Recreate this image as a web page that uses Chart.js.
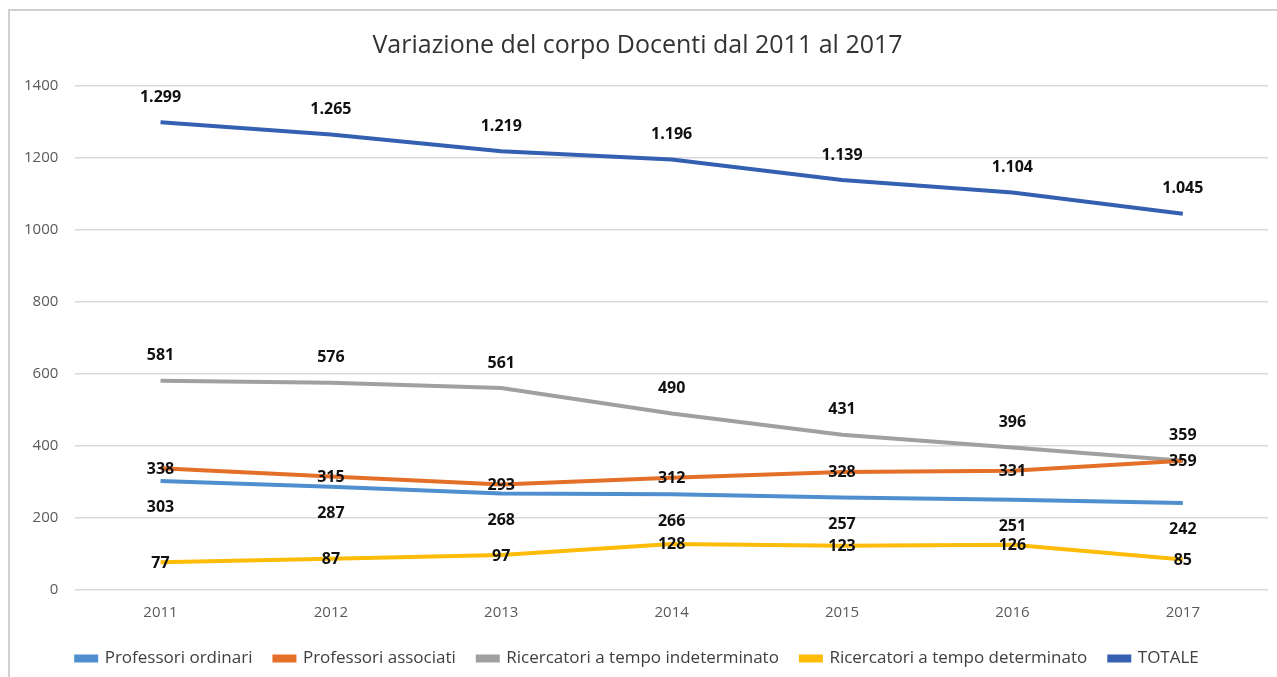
<!DOCTYPE html>
<html>
<head>
<meta charset="utf-8">
<script src="https://cdn.jsdelivr.net/npm/chart.js@4.4.1/dist/chart.umd.min.js"></script>
<style>
  body { margin: 0; background: #fff; }
  #wrap { position: relative; width: 1277px; height: 677px; }
  #frame { position: absolute; left: 8px; top: 9px; width: 1300px; height: 700px;
           border-top: 2px solid #d0d0d0; border-left: 2px solid #d0d0d0; }
  canvas { position: absolute; left: 0; top: 0; }
</style>
</head>
<body>
<div id="wrap">
  <div id="frame"></div>
  <canvas id="docentiChart" width="1277" height="677"></canvas>
</div>
<script>
const anni = ['2011', '2012', '2013', '2014', '2015', '2016', '2017'];
const ordinari = [303, 287, 268, 266, 257, 251, 242];
const associati = [338, 315, 293, 312, 328, 331, 359];
const ricIndeterminato = [581, 576, 561, 490, 431, 396, 359];
const ricDeterminato = [77, 87, 97, 128, 123, 126, 85];
const totale = [1299, 1265, 1219, 1196, 1139, 1104, 1045];
const yTicks = [0, 200, 400, 600, 800, 1000, 1200, 1400];

// migliaia con il punto, come nel grafico originale
function fmt(v) {
    return String(v).replace(/\B(?=(\d{3})+(?!\d))/g, '.');
}

// etichette dei valori (sopra, sotto o sul punto)
const etichette = {
    id: 'etichette',
    afterDatasetsDraw(chart) {
        const c = chart.ctx;
        c.save();
        c.font = 'bold 16px "Open Sans", sans-serif';
        c.fillStyle = '#111';
        c.textAlign = 'center';
        c.textBaseline = 'middle';
        chart.data.datasets.forEach((ds, i) => {
            const meta = chart.getDatasetMeta(i);
            const dy = ds.labelPos === 'above' ? -25 : ds.labelPos === 'below' ? 27 : 1;
            meta.data.forEach((pt, j) => {
                c.fillText(fmt(ds.data[j]), pt.x, pt.y + dy);
            });
        });
        c.restore();
    }
};

function serie(label, data, color, pos) {
    return {
        label: label,
        data: data,
        borderColor: color,
        backgroundColor: color,
        borderWidth: 4,
        pointRadius: 0,
        tension: 0,
        labelPos: pos
    };
}

const ctx = document.getElementById('docentiChart').getContext('2d');
new Chart(ctx, {
    type: 'line',
    data: {
        labels: anni,
        datasets: [
            serie('Professori ordinari', ordinari, '#4f8fcf', 'below'),
            serie('Professori associati', associati, '#e46f28', 'center'),
            serie('Ricercatori a tempo indeterminato', ricIndeterminato, '#a0a0a0', 'above'),
            serie('Ricercatori a tempo determinato', ricDeterminato, '#fdbc08', 'center'),
            serie('TOTALE', totale, '#3460b2', 'above')
        ]
    },
    options: {
        responsive: false,
        animation: false,
        layout: { padding: { left: 7, right: 9, top: 31, bottom: 0 } },
        plugins: {
            title: {
                display: true,
                text: 'Variazione del corpo Docenti dal 2011 al 2017',
                color: '#333',
                font: { family: '"Open Sans", sans-serif', size: 25, weight: 'normal' },
                padding: { top: 0, bottom: 25 }
            },
            legend: {
                position: 'bottom',
                labels: {
                    boxWidth: 20,
                    boxHeight: 4,
                    padding: 22,
                    color: '#404040',
                    font: { family: '"Open Sans", sans-serif', size: 17 }
                }
            },
            tooltip: { enabled: false }
        },
        scales: {
            x: {
                offset: true,
                grid: { display: false },
                border: { display: false },
                ticks: { color: '#595959', font: { family: '"Open Sans", sans-serif', size: 15 }, padding: 6 }
            },
            y: {
                min: 0,
                max: 1400,
                afterBuildTicks(axis) { axis.ticks = yTicks.map(v => ({ value: v })); },
                grid: { color: '#d9d9d9', lineWidth: 1.5, drawTicks: false },
                border: { display: false },
                ticks: {
                    color: '#595959',
                    font: { family: '"Open Sans", sans-serif', size: 15 },
                    padding: 17,
                    callback: v => String(v)
                }
            }
        }
    },
    plugins: [etichette]
});
</script>
</body>
</html>
